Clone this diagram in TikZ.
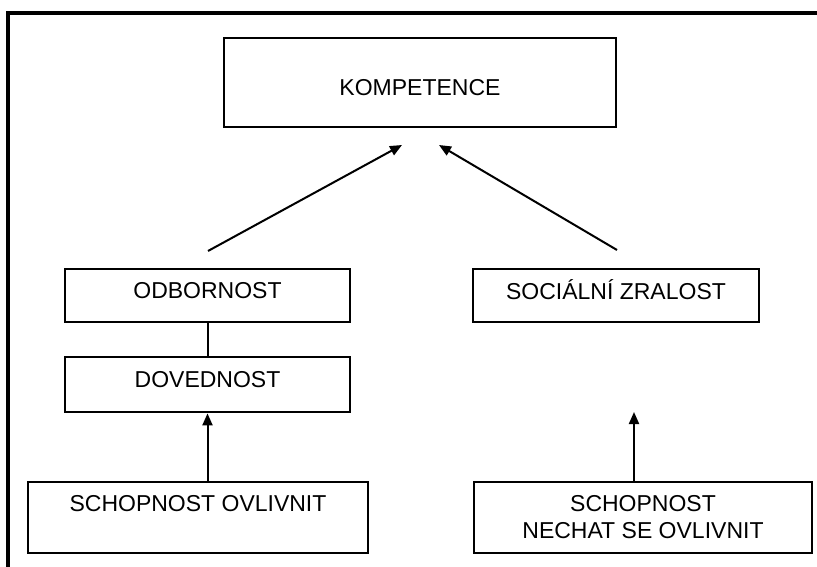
\documentclass[tikz,border=0pt]{standalone}
\usepackage{fontspec}
\setmainfont{Liberation Sans}
\usetikzlibrary{arrows.meta}

\tikzset{
  box/.style={draw, line width=2.8pt, rectangle, inner sep=0pt, align=center,
              font=\fontsize{23}{27}\selectfont},
  link/.style={line width=2pt},
  arr/.style={link, -{Triangle[length=12pt,width=10pt]}},
  frame/.style={line width=3.2pt}
}

\begin{document}
\begin{tikzpicture}[x=1pt,y=-1pt]
  \useasboundingbox (0,0) rectangle (817,567);
  \clip (0,0) rectangle (817,567);
  \fill[white] (0,0) rectangle (817,567);

  % outer frame, running past the right and bottom edges
  \draw[frame] (8,13) rectangle (840,600);

  % boxes
  \node[box, minimum width=392, minimum height=89, text height=27pt, text depth=0pt]
    (komp) at (420,82.5) {KOMPETENCE};
  \node[box, minimum width=285, minimum height=53, text height=16pt, text depth=11pt]
    (odb) at (207.5,295.5) {ODBORNOST};
  \node[box, minimum width=285, minimum height=55, text height=16pt, text depth=11pt]
    (dov) at (207.5,384.5) {DOVEDNOST};
  \node[box, minimum width=286, minimum height=53, text height=16pt, text depth=9pt]
    (soc) at (616,295.5) {SOCIÁLNÍ ZRALOST};
  \node[box, minimum width=340, minimum height=71, text height=16pt, text depth=29pt]
    (ovl) at (198,517.5) {SCHOPNOST OVLIVNIT};
  \node[box, minimum width=338, minimum height=71]
    (nech) at (643,517.5) {SCHOPNOST\\NECHAT SE OVLIVNIT};

  % free arrow ends
  \coordinate (odbtop) at (208,251);
  \coordinate (kompL) at (402,145);
  \coordinate (soctop) at (617,250);
  \coordinate (kompR) at (439,145);
  \coordinate (socbot) at (634,412);

  % connectors
  \draw[arr] (odbtop) -- (kompL);
  \draw[arr] (soctop) -- (kompR);
  \draw[link] (odb.south) -- (dov.north);
  \draw[arr] (dov.south |- ovl.north) -- (dov.south);
  \draw[arr] (socbot |- nech.north) -- (socbot);
\end{tikzpicture}
\end{document}
